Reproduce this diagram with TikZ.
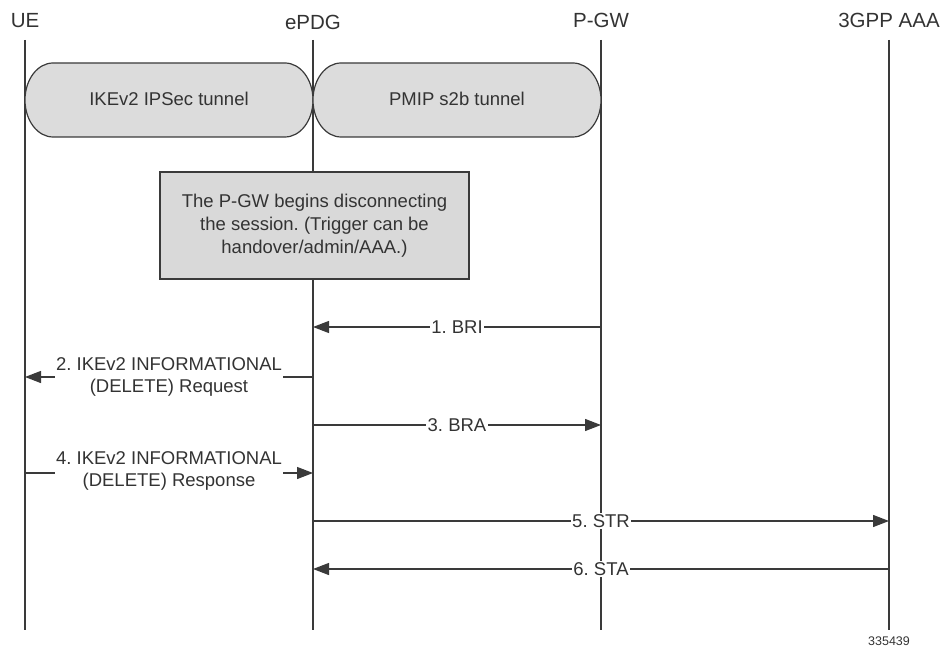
\documentclass[tikz,border=0pt]{standalone}
\usepackage{fontspec}
\setmainfont{Liberation Sans}
\usetikzlibrary{arrows.meta}
\definecolor{ln}{HTML}{3A3A3A}
\definecolor{tx}{HTML}{333333}
\definecolor{tun}{HTML}{DCDCDC}
\definecolor{boxf}{HTML}{D9D9D9}
\frenchspacing
\begin{document}
\begin{tikzpicture}[x=1pt,y=-1pt,
  hdr/.style={font=\fontsize{20.5}{24}\selectfont, text=tx, anchor=base, inner sep=0pt},
  life/.style={draw=ln, line width=1.3pt},
  msg/.style={draw=ln, line width=1.3pt, -{Triangle[length=16pt,width=12pt]}},
  lbl/.style={fill=white, text=tx, font=\fontsize{18.5}{22}\selectfont, inner xsep=1.5pt, inner ysep=1pt, align=center},
  tunnel/.style={draw=ln, fill=tun, line width=1.2pt},
  tlbl/.style={text=tx, font=\fontsize{18.5}{22}\selectfont, anchor=base, inner sep=0pt},
  notebox/.style={draw=ln, fill=boxf, line width=1.3pt, text=tx, align=center,
    font=\fontsize{18.5}{23}\selectfont, minimum width=309pt, minimum height=107pt, inner sep=0pt}
]
\useasboundingbox (0,0) rectangle (943,647);

% headers
\node[hdr] (ue)   at (25,28)  {UE};
\node[hdr] (epdg) at (313,30) {ePDG};
\node[hdr] (pgw)  at (601,28) {P-GW};
\node[hdr] (aaa)  at (889,28) {3GPP AAA};

% lifelines
\coordinate (ueT) at (25,40);   \coordinate (ueB) at (25,630);
\coordinate (epT) at (313,40);  \coordinate (epB) at (313,630);
\coordinate (pgT) at (601,40);  \coordinate (pgB) at (601,630);
\coordinate (aaT) at (889,40);  \coordinate (aaB) at (889,630);
\draw[life] (ueT) -- (ueB);
\draw[life] (epT) -- (epB);
\draw[life] (pgT) -- (pgB);
\draw[life] (aaT) -- (aaB);

% tunnels
\draw[tunnel] (53,63) -- (285,63) arc[start angle=90,end angle=-90,x radius=28pt,y radius=37pt]
  -- (53,137) arc[start angle=270,end angle=90,x radius=28pt,y radius=37pt] -- cycle;
\draw[tunnel] (341,63) -- (573,63) arc[start angle=90,end angle=-90,x radius=28pt,y radius=37pt]
  -- (341,137) arc[start angle=270,end angle=90,x radius=28pt,y radius=37pt] -- cycle;
\node[tlbl] (t1) at (169,106) {IKEv2 IPSec tunnel};
\node[tlbl] (t2) at (457,106) {PMIP s2b tunnel};

% note
\node[notebox] (note) at (314.5,225.5) {The P-GW begins disconnecting\\the session. (Trigger can be\\handover/admin/AAA.)};

% message end points
\coordinate (pg1) at (601,327); \coordinate (ep1) at (313,327);
\coordinate (ep2) at (313,377); \coordinate (ue2) at (25,377);
\coordinate (ep3) at (313,425); \coordinate (pg3) at (601,425);
\coordinate (ue4) at (25,473);  \coordinate (ep4) at (313,473);
\coordinate (ep5) at (313,521); \coordinate (aa5) at (889,521);
\coordinate (aa6) at (889,569); \coordinate (ep6) at (313,569);

\draw[msg] (pg1) -- (ep1) node[lbl, midway] (m1) {1. BRI};
\draw[msg] (ep2) -- (ue2) node[lbl, midway] (m2) {2. IKEv2 INFORMATIONAL\\(DELETE) Request};
\draw[msg] (ep3) -- (pg3) node[lbl, midway] (m3) {3. BRA};
\draw[msg] (ue4) -- (ep4) node[lbl, midway, yshift=2pt] (m4) {4. IKEv2 INFORMATIONAL\\(DELETE) Response};
\draw[msg] (ep5) -- (aa5) node[lbl, midway] (m5) {5. STR};
\draw[msg] (aa6) -- (ep6) node[lbl, midway] (m6) {6. STA};

\node[text=tx, font=\fontsize{12.5}{14}\selectfont, inner sep=0pt] (fig) at (889,641) {335439};
\end{tikzpicture}
\end{document}
